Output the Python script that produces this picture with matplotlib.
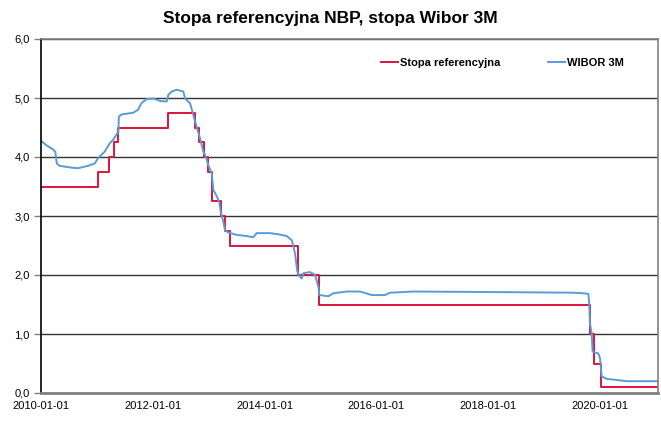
import pandas as pd
import matplotlib.pyplot as plt
import matplotlib.dates as mdates
from matplotlib.ticker import FuncFormatter

plt.rcParams['font.family'] = ['Liberation Sans', 'DejaVu Sans']

# Stopa referencyjna NBP - daty decyzji i poziomy
ref_dates = ['2010-01-01', '2011-01-20', '2011-04-06', '2011-05-12', '2011-06-09',
             '2012-05-10', '2012-11-08', '2012-12-06', '2013-01-10', '2013-02-07',
             '2013-03-07', '2013-05-09', '2013-06-06', '2013-07-04', '2014-10-09',
             '2015-03-05', '2020-03-18', '2020-04-09', '2020-05-29', '2021-06-20']
ref_rates = [3.50, 3.75, 4.00, 4.25, 4.50,
             4.75, 4.50, 4.25, 4.00, 3.75,
             3.25, 3.00, 2.75, 2.50, 2.00,
             1.50, 1.00, 0.50, 0.10, 0.10]

# WIBOR 3M - odczyt z wykresu
wibor_dates = ['2010-01-01', '2010-01-08', '2010-02-06', '2010-03-23', '2010-04-08', '2010-04-18',
               '2010-05-08', '2010-07-26', '2010-09-09', '2010-11-16', '2011-01-01', '2011-01-23',
               '2011-03-09', '2011-04-12', '2011-05-05', '2011-06-11', '2011-06-13', '2011-06-30',
               '2011-09-18', '2011-10-22', '2011-11-13', '2011-12-18', '2012-02-02', '2012-03-19',
               '2012-05-03', '2012-05-14', '2012-06-06', '2012-07-10', '2012-08-24', '2012-09-05',
               '2012-10-09', '2012-10-31', '2012-11-23', '2012-12-15', '2013-01-07', '2013-01-25',
               '2013-02-10', '2013-03-05', '2013-03-16', '2013-04-03', '2013-04-25', '2013-05-05',
               '2013-05-23', '2013-06-03', '2013-06-26', '2013-08-22', '2013-10-28', '2013-12-12',
               '2014-01-04', '2014-04-05', '2014-05-31', '2014-07-27', '2014-08-30', '2014-09-21',
               '2014-10-07', '2014-10-25', '2014-11-06', '2014-11-17', '2015-01-01', '2015-02-04',
               '2015-02-27', '2015-03-05', '2015-05-05', '2015-06-09', '2015-09-07', '2015-12-07',
               '2016-02-24', '2016-05-24', '2016-06-27', '2016-12-03', '2018-07-13', '2019-11-23',
               '2020-01-30', '2020-03-04', '2020-03-10', '2020-03-15', '2020-03-27', '2020-04-02',
               '2020-05-11', '2020-05-22', '2020-06-03', '2020-07-07', '2020-09-13', '2020-11-19',
               '2021-06-20']
wibor_rates = [4.27, 4.26, 4.20, 4.13, 4.09, 3.89,
               3.85, 3.82, 3.81, 3.85, 3.89, 3.98,
               4.09, 4.23, 4.29, 4.43, 4.68, 4.72,
               4.75, 4.80, 4.91, 4.98, 4.99, 4.95,
               4.94, 5.05, 5.11, 5.14, 5.11, 4.99,
               4.91, 4.71, 4.51, 4.32, 4.09, 4.00,
               3.86, 3.72, 3.44, 3.36, 3.24, 3.07,
               2.90, 2.76, 2.72, 2.68, 2.66, 2.64,
               2.71, 2.71, 2.69, 2.66, 2.59, 2.37,
               2.06, 1.97, 1.94, 2.03, 2.05, 2.00,
               1.80, 1.66, 1.64, 1.69, 1.72, 1.72,
               1.66, 1.66, 1.70, 1.72, 1.71, 1.70,
               1.69, 1.68, 1.52, 1.18, 1.01, 0.70,
               0.67, 0.59, 0.28, 0.24, 0.22, 0.20,
               0.20]

tick_labels = ['2010-01-01', '2012-01-01', '2014-01-01', '2016-01-01', '2018-01-01', '2020-01-01']

ref = pd.Series(ref_rates, index=pd.to_datetime(ref_dates))
wibor = pd.Series(wibor_rates, index=pd.to_datetime(wibor_dates))

fig = plt.figure(figsize=(6.61, 4.21), dpi=100)
ax = fig.add_axes([41 / 661, 1 - 393 / 421, 617 / 661, 354 / 421])

ax.step(ref.index, ref.values, where='post', color='#DC143C', lw=1.4, label='Stopa referencyjna')
ax.plot(wibor.index, wibor.values, color='#5B9BD5', lw=1.4, label='WIBOR 3M')

start = pd.Timestamp('2010-01-01')
ax.set_xlim(start, pd.Timestamp('2021-06-20'))
ax.set_ylim(0, 6)

# etykiety osi X co ok. 759 dni, jak w oryginale
tick_pos = [start + pd.Timedelta(days=759 * i) for i in range(len(tick_labels))]
ax.set_xticks(mdates.date2num(tick_pos))
ax.set_xticklabels(tick_labels, fontsize=8)
ax.tick_params(axis='x', length=0, pad=6)

ax.set_yticks(range(7))
ax.yaxis.set_major_formatter(FuncFormatter(lambda v, p: f'{v:.1f}'.replace('.', ',')))
ax.tick_params(axis='y', length=5, width=1, color='#808080', labelsize=8, pad=3)

ax.grid(axis='y', color='#333333', lw=1)
ax.set_axisbelow(True)

ax.spines['left'].set_color('black')
ax.spines['left'].set_linewidth(1.2)
ax.spines['bottom'].set_color('#808080')
ax.spines['bottom'].set_linewidth(2)
ax.spines['top'].set_color('#808080')
ax.spines['top'].set_linewidth(1.2)
ax.spines['right'].set_color('#808080')
ax.spines['right'].set_linewidth(1.2)

ax.legend(ncol=2, frameon=False, loc='center left', bbox_to_anchor=(0.551, 0.932),
          borderpad=0, borderaxespad=0, handlelength=1.5, handletextpad=0.2,
          columnspacing=4.3, prop={'weight': 'bold', 'size': 8})

fig.text(0.5, 1 - 19 / 421, 'Stopa referencyjna NBP, stopa Wibor 3M',
         ha='center', va='center', fontsize=12.5, fontweight='bold')

fig.savefig('out.png', dpi=100)
